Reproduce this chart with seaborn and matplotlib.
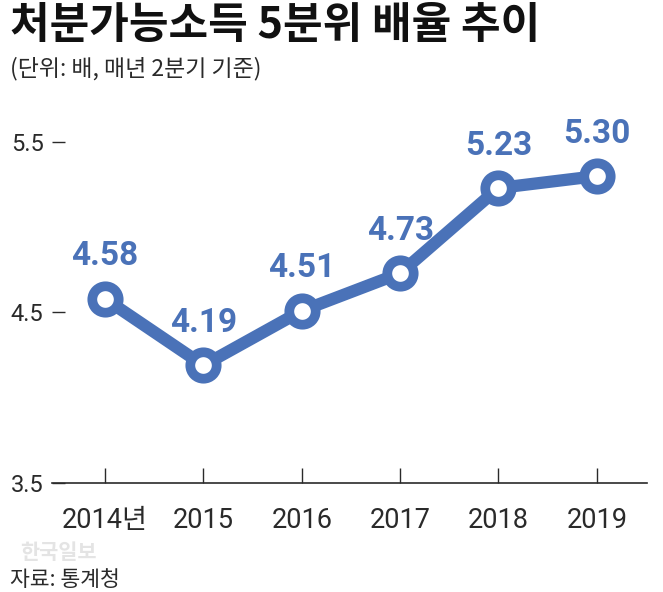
import matplotlib
matplotlib.use("Agg")
import matplotlib.pyplot as plt
import seaborn as sns
import pandas as pd

years = ["2014년", "2015", "2016", "2017", "2018", "2019"]
ratios = [4.58, 4.19, 4.51, 4.73, 5.23, 5.30]
value_labels = ["4.58", "4.19", "4.51", "4.73", "5.23", "5.30"]
y_ticks = [3.5, 4.5, 5.5]
y_tick_labels = ["3.5", "4.5", "5.5"]

title = "처분가능소득 5분위 배율 추이"
subtitle = "(단위: 배, 매년 2분기 기준)"
source = "자료: 통계청"
watermark = "한국일보"

sns.set_theme(style="white")
plt.rcParams["font.family"] = ["Roboto", "Noto Sans CJK KR", "DejaVu Sans"]

BLUE = "#4a72b8"
DARK = "#2a2a2a"

df = pd.DataFrame({"pos": list(range(len(years))), "ratio": ratios})

fig = plt.figure(figsize=(6.63, 5.92), dpi=100)
ax = fig.add_axes([52 / 663, 109 / 592, 595 / 663, 361.5 / 592])

sns.lineplot(data=df, x="pos", y="ratio", ax=ax, color=BLUE, linewidth=8.8,
             marker="o", markersize=19, markerfacecolor="white",
             markeredgecolor=BLUE, markeredgewidth=7, solid_capstyle="round",
             zorder=3)

for i, (v, lab) in enumerate(zip(ratios, value_labels)):
    ax.annotate(lab, xy=(i, v), xytext=(0, 19), textcoords="offset points",
                ha="center", va="bottom", color=BLUE, fontsize=24,
                fontweight="bold", family=["Roboto", "DejaVu Sans"])

ax.set_xlim(-0.54, 5.51)
ax.set_ylim(3.5, 5.62)
ax.set_xticks(range(len(years)))
ax.set_xticklabels(years)
ax.set_yticks(y_ticks)
ax.set_yticklabels(y_tick_labels)
ax.set_xlabel("")
ax.set_ylabel("")

for s in ["left", "top", "right"]:
    ax.spines[s].set_visible(False)
ax.spines["bottom"].set_color(DARK)
ax.spines["bottom"].set_linewidth(1.2)

ax.tick_params(axis="x", direction="in", length=11, width=1, color=DARK,
               pad=17, labelsize=19.5, labelcolor=DARK, bottom=True)
ax.tick_params(axis="y", direction="in", length=9.5, width=1, color=DARK,
               pad=6, labelsize=17, labelcolor=DARK, left=True)
ax.grid(False)

fig.text(10 / 663, 1 - 3 / 592, title, ha="left", va="top", fontsize=31,
         fontweight="black", color="#111111",
         family=["Noto Sans CJK KR", "DejaVu Sans"])
fig.text(10 / 663, 1 - 57 / 592, subtitle, ha="left", va="top", fontsize=16.5,
         color=DARK, family=["Noto Sans CJK KR", "DejaVu Sans"])
fig.text(20 / 663, 1 - 542 / 592, watermark, ha="left", va="top", fontsize=15,
         fontweight="bold", color="#e4e4e4",
         family=["Noto Sans CJK KR", "DejaVu Sans"])
fig.text(10 / 663, 1 / 592, source, ha="left", va="bottom", fontsize=15.5,
         color=DARK, family=["Noto Sans CJK KR", "DejaVu Sans"])

fig.savefig("out.png", dpi=100, facecolor="white")
